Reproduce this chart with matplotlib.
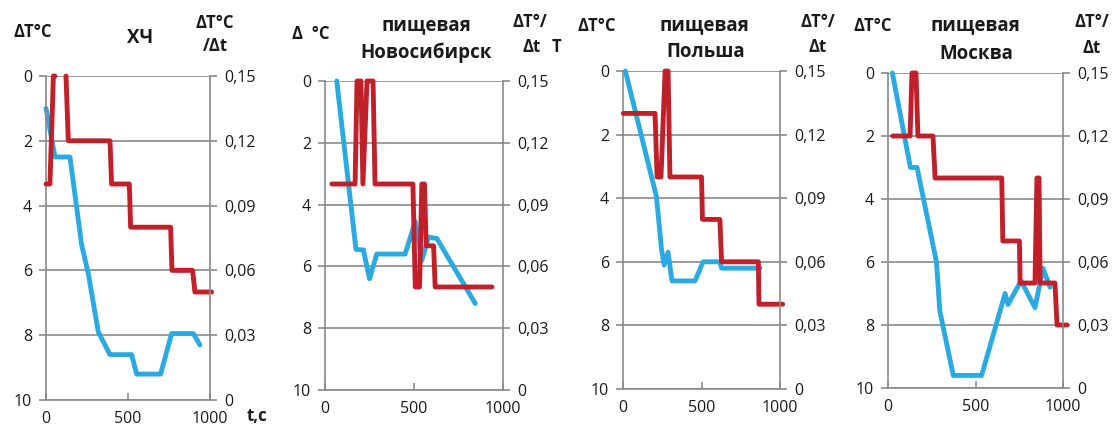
import numpy as np
import matplotlib
matplotlib.use("Agg")
import matplotlib.pyplot as plt

plt.rcParams['font.family'] = ['Open Sans', 'DejaVu Sans']

nan = np.nan

# Panel 1: ХЧ
t1_blue = [0, 55, 146, 217, 258, 319, 390, 522, 553, 699, 766, 898, 939]
dT1 = [1.0, 2.5, 2.5, 5.2, 6.1, 7.9, 8.6, 8.6, 9.2, 9.2, 7.95, 7.95, 8.3]
t1_red = [0, 24, 45, 55, nan, 122, 136, 390, 400, 508, 516, 760, 768, 894, 908, 1010]
rate1 = [0.10, 0.10, 0.15, 0.15, nan, 0.15, 0.12, 0.12, 0.10, 0.10, 0.08, 0.08,
         0.06, 0.06, 0.05, 0.05]

# Panel 2: пищевая Новосибирск
t2_blue = [66, 174, 216, 250, 291, 450, 507, 544, 582, 629, 844]
dT2 = [0, 5.45, 5.47, 6.4, 5.6, 5.6, 4.55, 5.8, 5.05, 5.1, 7.2]
t2_red = [38, 169, 180, 202, 213, 236, 270, 281, 494, 507, 531, 544, 559, 568,
          610, 619, 938]
rate2 = [0.10, 0.10, 0.15, 0.15, 0.10, 0.15, 0.15, 0.10, 0.10, 0.05, 0.05, 0.10,
         0.10, 0.07, 0.07, 0.05, 0.05]

# Panel 3: пищевая Польша
t3_blue = [15, 213, 245, 262, 287, 312, 459, 510, 617, 628, 872]
dT3 = [0, 3.95, 5.6, 6.1, 5.7, 6.6, 6.6, 6.0, 6.0, 6.2, 6.2]
t3_red = [2, 204, 217, 242, 268, 287, 299, 500, 506, 617, 628, 862, 866, 1017]
rate3 = [0.13, 0.13, 0.10, 0.10, 0.15, 0.15, 0.10, 0.10, 0.08, 0.08, 0.06, 0.06,
         0.04, 0.04]

# Panel 4: пищевая Москва
t4_blue = [25, 128, 166, 277, 296, 373, 535, 669, 686, 760, 840, 886, 926]
dT4 = [0, 3.0, 3.0, 6.0, 7.55, 9.6, 9.6, 7.0, 7.35, 6.6, 7.45, 6.2, 6.8]
t4_red = [27, 126, 137, 160, 171, 257, 269, 650, 656, 751, 755, 840, 851, 863,
          869, 954, 966, 1023]
rate4 = [0.12, 0.12, 0.15, 0.15, 0.12, 0.12, 0.10, 0.10, 0.07, 0.07, 0.05, 0.05,
         0.10, 0.10, 0.05, 0.05, 0.03, 0.03]

left_ticks = [0, 2, 4, 6, 8, 10]
right_ticks = [0, 0.03, 0.06, 0.09, 0.12, 0.15]
right_labels = ['0', '0,03', '0,06', '0,09', '0,12', '0,15']
x_ticks = [0, 500, 1000]

BLUE = '#2AAAE1'
RED = '#C0202A'
GRID = '#8A8A8A'
TXT = '#1a1a1a'

W, H = 1117, 432
fig = plt.figure(figsize=(W / 100, H / 100), dpi=100)

# axes boxes in pixels: left, right, top, bottom
boxes = [(46, 210, 76, 400), (325, 503, 81, 390), (623, 780, 71, 389), (888, 1063, 73, 388)]
panels = [(t1_blue, dT1, t1_red, rate1), (t2_blue, dT2, t2_red, rate2),
          (t3_blue, dT3, t3_red, rate3), (t4_blue, dT4, t4_red, rate4)]


def fx(px):
    return px / W


def fy(py):
    return 1 - py / H


for (l, r, t, b), (tb, vb, tr, vr) in zip(boxes, panels):
    ax = fig.add_axes([fx(l), fy(b), (r - l) / W, (b - t) / H])
    ax.set_xlim(0, 1000)
    ax.set_ylim(10, 0)
    ax.set_yticks(left_ticks)
    ax.set_xticks(x_ticks)
    ax.grid(axis='y', color=GRID, lw=1.2)
    ax.set_axisbelow(True)
    for s in ['top', 'right']:
        ax.spines[s].set_visible(False)
    for s in ['left', 'bottom']:
        ax.spines[s].set_color(GRID)
        ax.spines[s].set_linewidth(1.2)
    ax.tick_params(axis='y', direction='out', length=5, width=1.2, color=GRID,
                   labelsize=11.5, labelcolor=TXT, pad=5)
    ax.tick_params(axis='x', direction='in', length=5, width=1.2, color=GRID,
                   labelsize=11.5, labelcolor=TXT, pad=8)
    ax.plot(tb, vb, color=BLUE, lw=3.5, solid_joinstyle='round', solid_capstyle='round',
            clip_on=False)

    ax2 = ax.twinx()
    ax2.set_ylim(0, 0.15)
    ax2.set_yticks(right_ticks)
    ax2.set_yticklabels(right_labels)
    for s in ['top', 'left', 'bottom']:
        ax2.spines[s].set_visible(False)
    ax2.spines['right'].set_color(GRID)
    ax2.spines['right'].set_linewidth(1.2)
    ax2.tick_params(axis='y', direction='out', length=5, width=1.2, color=GRID,
                    labelsize=11.5, labelcolor=TXT, pad=5)
    ax2.plot(tr, vr, color=RED, lw=3.5, solid_joinstyle='round', solid_capstyle='round',
             clip_on=False)


# axis captions and titles
def label(x, y, s, size=12, **kw):
    fig.text(fx(x), fy(y), s, ha='center', va='center', fontsize=size,
             fontweight='bold', color=TXT, **kw)


label(33, 32, 'ΔT°C')
label(140, 38, 'ХЧ', size=13.5)
label(215, 23, 'ΔT°C')
label(215, 46, '/Δt')
label(257, 416, 't,c')

label(311, 34, 'Δ  °C')
label(426, 25, 'пищевая', size=13.5)
label(426, 53, 'Новосибирск', size=13.5)
label(530, 22, 'ΔT°/')
label(532, 47, 'Δt')
label(556, 47, 'T')

label(597, 26, 'ΔT°C')
label(704, 25, 'пищевая', size=13.5)
label(706, 52, 'Польша', size=13.5)
label(818, 22, 'ΔT°/')
label(818, 47, 'Δt')

label(873, 26, 'ΔT°C')
label(975, 25, 'пищевая', size=13.5)
label(976, 54, 'Москва', size=13.5)
label(1092, 22, 'ΔT°/')
label(1092, 48, 'Δt')

fig.savefig('out.png', dpi=100)
